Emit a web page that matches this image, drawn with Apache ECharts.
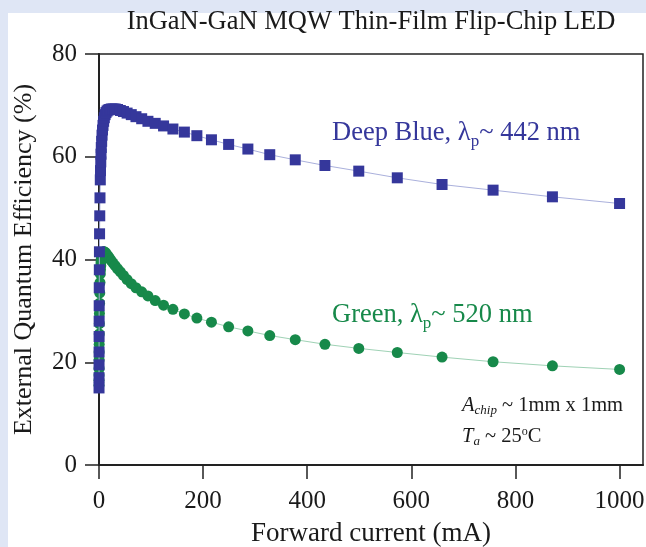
<!DOCTYPE html>
<html>
<head>
<meta charset="utf-8">
<script src="https://cdn.jsdelivr.net/npm/echarts@6/dist/echarts.min.js"></script>
<style>
html,body{margin:0;padding:0;background:#dfe6f5;}
#chart{width:646px;height:547px;}
</style>
</head>
<body>
<div id="chart"></div>
<script>
// Forward current (mA)
const currents = [0.05,0.07,0.1,0.14,0.2,0.27,0.36,0.48,0.63,0.83,1.1,1.45,1.9,2.5,2.9,3.4,3.9,4.4,5.1,5.8,6.7,7.7,8.9,10.2,11.7,13.4,15.5,17.8,20.4,23.5,27,31,35.6,41,47,54,62,71,82,94,108,124,142,164,188,216,249,286,328,377,434,499,573,659,757,871,1000];
// External quantum efficiency (%)
const blueEQE = [15.0,17.0,19.5,22.0,25.0,28.0,31.0,34.5,38.0,41.5,45.0,48.5,52.0,55.5,57.3,59.0,60.5,61.8,63.0,64.2,65.2,66.1,66.9,67.6,68.2,68.6,68.9,69.1,69.2,69.3,69.3,69.3,69.2,69.0,68.8,68.5,68.2,67.8,67.4,66.9,66.5,66.0,65.4,64.8,64.1,63.3,62.4,61.5,60.4,59.4,58.3,57.2,55.9,54.6,53.5,52.2,50.9];
const greenEQE = [15.5,16.5,17.5,18.8,20.5,22.0,23.5,25.5,27.5,29.5,31.5,33.5,35.5,37.2,38.0,38.8,39.5,40.1,40.5,40.9,41.2,41.4,41.5,41.5,41.4,41.2,40.9,40.6,40.2,39.8,39.3,38.8,38.2,37.6,36.9,36.1,35.3,34.5,33.7,32.9,32.0,31.1,30.3,29.4,28.6,27.8,26.9,26.1,25.2,24.4,23.5,22.7,21.9,21.0,20.1,19.3,18.6];
const xTicks = [0,200,400,600,800,1000];
const yTicks = [0,20,40,60,80];
const titleText = 'InGaN-GaN MQW Thin-Film Flip-Chip LED';
const xName = 'Forward current (mA)';
const yName = 'External Quantum Efficiency (%)';

const FONT = 'Liberation Serif';
const BLUE = '#35379b';
const GREEN = '#17894a';

const chart = echarts.init(document.getElementById('chart'), null, {renderer:'canvas'});
const pairs = (ys) => currents.map((c,i)=>[c, ys[i]]);

chart.setOption({
  backgroundColor: '#dfe6f5',
  animation: false,
  title: {
    text: titleText, left: 366, top: 4, textAlign: 'center',
    textStyle: {fontFamily: FONT, fontSize: 26.5, fontWeight: 'normal', color: '#1a1a1a'}
  },
  grid: {left: 99, right: 3, top: 54, bottom: 82, outerBoundsMode: 'none', containLabel: false, show: true, borderColor: '#222', borderWidth: 1.5, backgroundColor: 'transparent'},
  xAxis: {
    type: 'value', min: 0, max: 1045,
    name: xName, nameLocation: 'middle', nameGap: 55,
    nameTextStyle: {fontFamily: FONT, fontSize: 27, color: '#1a1a1a'},
    axisLine: {show: true, lineStyle: {color: '#222', width: 2}},
    axisTick: {show: true, inside: false, length: 14, customValues: xTicks, lineStyle: {color: '#222', width: 1.5}},
    axisLabel: {customValues: xTicks, margin: 24, fontFamily: FONT, fontSize: 25, color: '#1a1a1a', formatter: (v) => String(v)},
    splitLine: {show: false}
  },
  yAxis: {
    type: 'value', min: 0, max: 80, interval: 20,
    name: yName, nameLocation: 'middle', nameGap: 62,
    nameTextStyle: {fontFamily: FONT, fontSize: 26, color: '#1a1a1a'},
    axisLine: {show: true, lineStyle: {color: '#222', width: 2}},
    axisTick: {show: true, inside: false, length: 14, lineStyle: {color: '#222', width: 1.5}},
    axisLabel: {margin: 22, fontFamily: FONT, fontSize: 25, color: '#1a1a1a', formatter: (v) => String(v)},
    splitLine: {show: false}
  },
  graphic: [
    {type: 'rect', z: -10, silent: true, shape: {x: 8, y: 13, width: 700, height: 600}, style: {fill: '#ffffff'}},
    {type: 'text', left: 332, top: 120, z: 100, style: {
      text: '{t|Deep Blue, λ}{s|p}{t|~ 442 nm}',
      rich: {t: {fontFamily: FONT, fontSize: 26.5, fill: BLUE}, s: {fontFamily: FONT, fontSize: 17, fill: BLUE, padding: [16,0,0,0]}}
    }},
    {type: 'text', left: 332, top: 302, z: 100, style: {
      text: '{t|Green, λ}{s|p}{t|~ 520 nm}',
      rich: {t: {fontFamily: FONT, fontSize: 26.5, fill: GREEN}, s: {fontFamily: FONT, fontSize: 17, fill: GREEN, padding: [16,0,0,0]}}
    }},
    {type: 'text', left: 462, top: 395, z: 100, style: {
      text: '{i|A}{s|chip}{t| ~ 1mm x 1mm}',
      rich: {i: {fontFamily: FONT, fontSize: 20.5, fontStyle: 'italic', fill: '#1a1a1a'}, s: {fontFamily: FONT, fontSize: 13, fontStyle: 'italic', fill: '#1a1a1a', padding: [11,0,0,0]}, t: {fontFamily: FONT, fontSize: 20.5, fill: '#1a1a1a'}}
    }},
    {type: 'text', left: 462, top: 426, z: 100, style: {
      text: '{i|T}{s|a}{t| ~ 25}{o|o}{t|C}',
      rich: {i: {fontFamily: FONT, fontSize: 20.5, fontStyle: 'italic', fill: '#1a1a1a'}, s: {fontFamily: FONT, fontSize: 13, fontStyle: 'italic', fill: '#1a1a1a', padding: [11,0,0,0]}, t: {fontFamily: FONT, fontSize: 20.5, fill: '#1a1a1a'}, o: {fontFamily: FONT, fontSize: 12, fill: '#1a1a1a', padding: [0,0,9,0]}}
    }}
  ],
  series: [
    {
      name: 'Green', type: 'line', data: pairs(greenEQE), z: 2,
      symbol: 'circle', symbolSize: 11, showAllSymbol: true,
      itemStyle: {color: GREEN},
      lineStyle: {color: '#9fd2b5', width: 1}
    },
    {
      name: 'Deep Blue', type: 'line', data: pairs(blueEQE), z: 3,
      symbol: 'rect', symbolSize: 11, showAllSymbol: true,
      itemStyle: {color: BLUE},
      lineStyle: {color: '#aab0dc', width: 1}
    }
  ]
});
</script>
</body>
</html>
